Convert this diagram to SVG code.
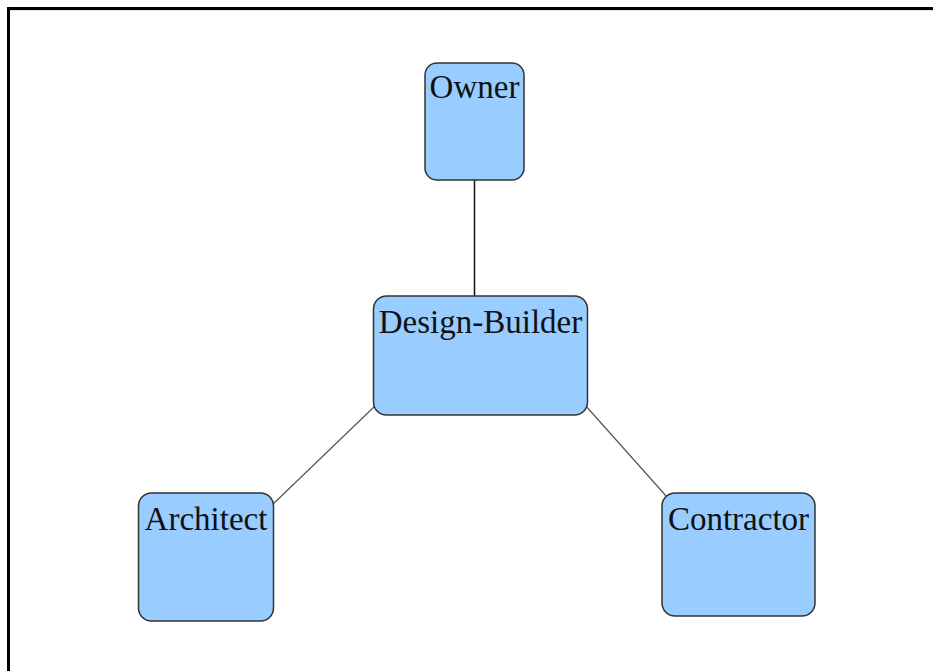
<svg xmlns="http://www.w3.org/2000/svg" width="933" height="671" viewBox="0 0 933 671">
  <style>
    .node rect { fill: #99ccff; stroke: #333333; stroke-width: 1.5; }
    .node text { font-family: "Liberation Serif", "Times New Roman", serif; font-size: 33px; fill: #111111; text-anchor: middle; }
    .edge { stroke: #555555; stroke-width: 1.2; fill: none; }
    .edge.v { stroke: #111111; stroke-width: 1.5; }
  </style>
  <rect x="0" y="0" width="933" height="671" fill="#ffffff"/>
  <!-- frame: top and left edges only within view -->
  <line x1="8.5" y1="10.5" x2="933" y2="10.5" stroke="#e2e2e2" stroke-width="1"/>
  <path d="M8.5 671 V8.5 H933" fill="none" stroke="#000000" stroke-width="3"/>

  <g id="connectors">
    <line class="edge v" x1="474.5" y1="180" x2="474.5" y2="297"/>
    <line class="edge" x1="376" y1="405" x2="270" y2="507"/>
    <line class="edge" x1="585" y1="405" x2="667" y2="497"/>
  </g>

  <g id="owner" class="node">
    <rect x="425" y="63" width="99" height="117" rx="12" ry="12"/>
    <text x="474.5" y="98">Owner</text>
  </g>
  <g id="design-builder" class="node">
    <rect x="373.5" y="296" width="214" height="119" rx="13" ry="13"/>
    <text x="480.5" y="333">Design-Builder</text>
  </g>
  <g id="architect" class="node">
    <rect x="138.5" y="493" width="135" height="128" rx="13" ry="13"/>
    <text x="206" y="530">Architect</text>
  </g>
  <g id="contractor" class="node">
    <rect x="662" y="493" width="153" height="123" rx="13" ry="13"/>
    <text x="738.5" y="530">Contractor</text>
  </g>
</svg>
